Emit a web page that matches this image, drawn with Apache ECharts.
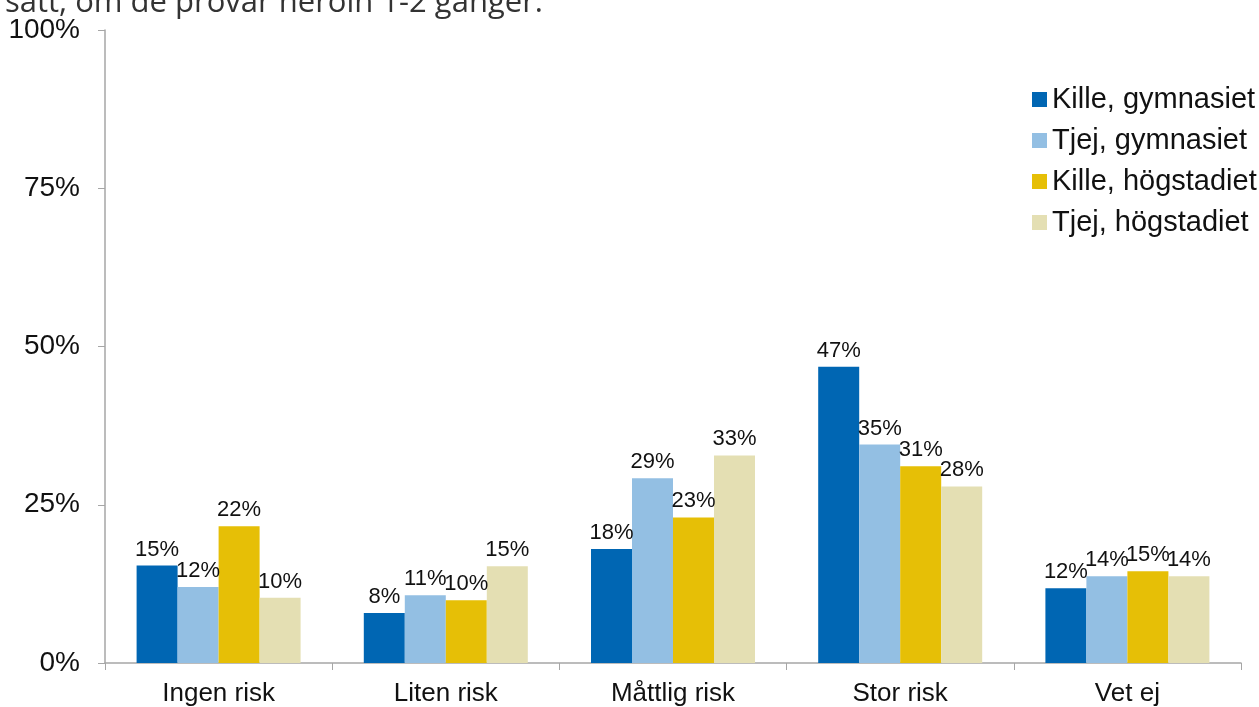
<!DOCTYPE html>
<html>
<head>
<meta charset="utf-8">
<script src="https://cdn.jsdelivr.net/npm/echarts@6/dist/echarts.min.js"></script>
<style>
  html, body { margin: 0; padding: 0; background: #fff; }
  #chart { width: 1259px; height: 707px; }
</style>
</head>
<body>
<div id="chart"></div>
<script>
const categories = ['Ingen risk', 'Liten risk', 'Måttlig risk', 'Stor risk', 'Vet ej']
const seriesNames = ['Kille, gymnasiet', 'Tjej, gymnasiet', 'Kille, högstadiet', 'Tjej, högstadiet']
const killeGymnasiet = [15.4, 7.9, 18.0, 46.8, 11.8]
const tjejGymnasiet = [12.0, 10.7, 29.2, 34.5, 13.7]
const killeHogstadiet = [21.6, 9.9, 23.0, 31.1, 14.5]
const tjejHogstadiet = [10.3, 15.3, 32.8, 27.9, 13.7]
const colors = ['#0066b3', '#93bfe3', '#e6bf06', '#e4dfb3']
const titleText = 'sätt, om de prövar heroin 1-2 gånger.'

const chart = echarts.init(document.getElementById('chart'))

const makeSeries = (name, data) => ({
  name: name,
  type: 'bar',
  data: data,
  barWidth: 41,
  barGap: '0%',
  label: {
    show: true,
    position: 'top',
    distance: 5,
    color: '#111',
    fontFamily: 'Liberation Sans',
    fontSize: 22,
    formatter: (p) => Math.round(p.value) + '%'
  }
})

const option = {
  animation: false,
  color: colors,
  graphic: [{
    type: 'text',
    left: 5,
    top: -12,
    style: {
      text: titleText,
      font: '31px "Open Sans"',
      fill: '#333'
    }
  }],
  legend: {
    orient: 'vertical',
    left: 1027,
    top: 80,
    itemWidth: 15,
    itemHeight: 15,
    itemGap: 12,
    icon: 'rect',
    textStyle: { fontFamily: 'Liberation Sans', fontSize: 29, lineHeight: 28, color: '#111' },
    data: seriesNames
  },
  grid: { left: 105, right: 18, top: 30, bottom: 43, containLabel: false },
  xAxis: {
    type: 'category',
    data: categories,
    axisLine: { lineStyle: { color: '#a6a6a6', width: 1.5 } },
    axisTick: { show: true, length: 7, lineStyle: { color: '#a6a6a6' } },
    axisLabel: { fontFamily: 'Liberation Sans', fontSize: 26, color: '#111', margin: 18 }
  },
  yAxis: {
    type: 'value',
    min: 0,
    max: 100,
    interval: 25,
    axisLine: { show: true, lineStyle: { color: '#a6a6a6', width: 1.5 } },
    axisTick: { show: true, length: 7, lineStyle: { color: '#a6a6a6' } },
    splitLine: { show: false },
    axisLabel: { fontFamily: 'Liberation Sans', fontSize: 28, color: '#111', margin: 25, formatter: '{value}%' }
  },
  series: [
    makeSeries(seriesNames[0], killeGymnasiet),
    makeSeries(seriesNames[1], tjejGymnasiet),
    makeSeries(seriesNames[2], killeHogstadiet),
    makeSeries(seriesNames[3], tjejHogstadiet)
  ]
}

chart.setOption(option)
</script>
</body>
</html>
